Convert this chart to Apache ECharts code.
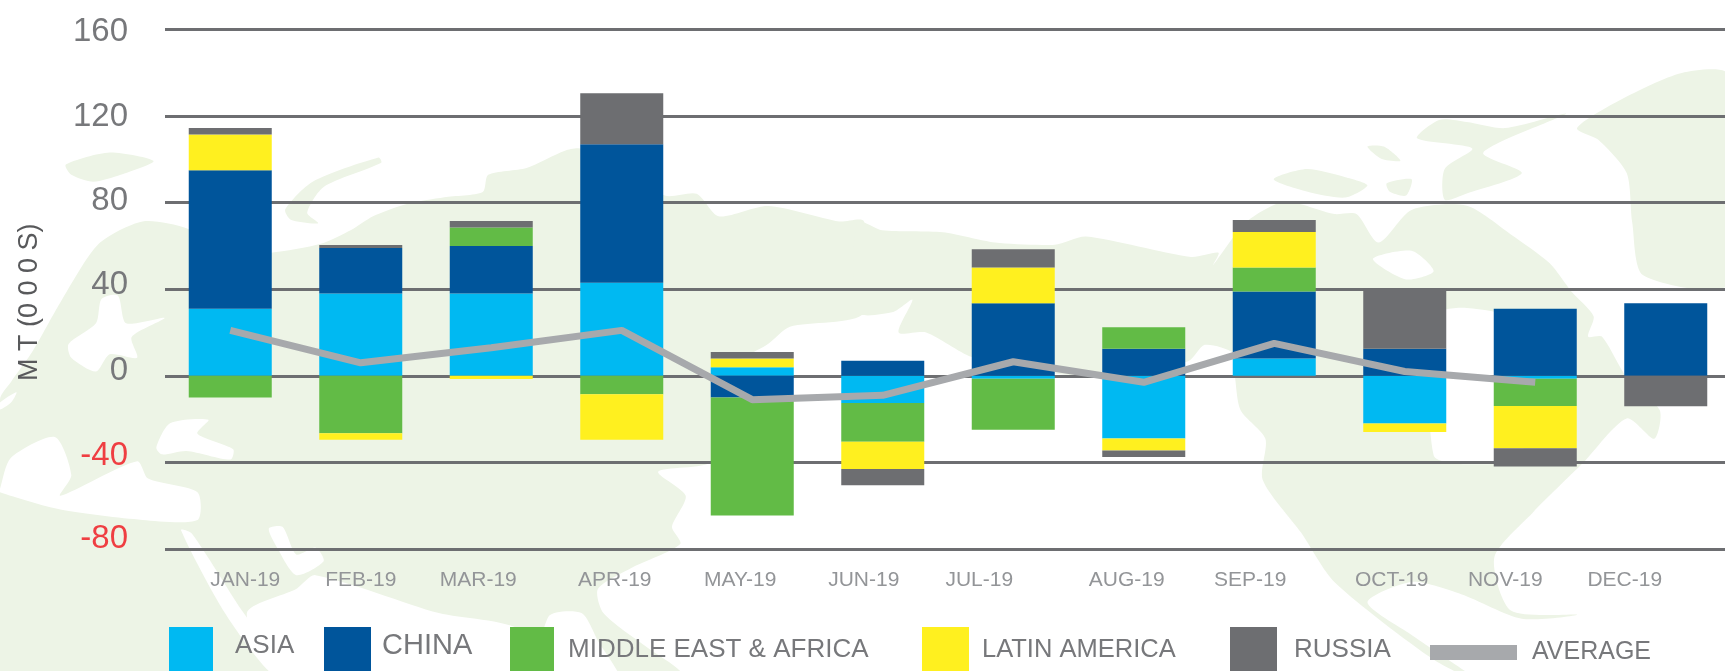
<!DOCTYPE html>
<html>
<head>
<meta charset="utf-8">
<title>MT (000S)</title>
<style>
  html, body { margin: 0; padding: 0; background: #fff; }
  #chart { width: 1725px; height: 671px; }
</style>
<script src="https://cdn.jsdelivr.net/npm/echarts@6/dist/echarts.min.js"></script>
</head>
<body>
<div id="chart"></div>
<script>
// data
const months = ["JAN-19", "FEB-19", "MAR-19", "APR-19", "MAY-19", "JUN-19", "JUL-19", "AUG-19", "SEP-19", "OCT-19", "NOV-19", "DEC-19"];
const asia = [31, 38, 38, 43, 4, -12.5, -1.4, -29, 8, -22, -1.4, 0];
const china = [64, 21, 22, 64, -10, 7, 33.5, 12.5, 31, 12.5, 31, 33.5];
const middleEastAfrica = [-10, -26.5, 8.5, -8.5, -54.5, -18, -23.5, 10, 11, 0, -12.5, 0];
const latinAmerica = [16.5, -3, -1.5, -21, 4, -12.5, 16.5, -5.5, 16.5, -4, -19.5, 0];
const russia = [3, 1.5, 3, 23.5, 3, -7.5, 8.5, -3, 5.5, 28, -8.5, -14];
const average = [21, 6, 13, 21, -11, -9, 6.5, -3, 15, 2, -3, null];
const yTicks = [160, 120, 80, 40, 0, -40, -80];

// the reference has its labels drifting off the bars and gridlines
const xLabelShift = [15, 0, -13, -7, -12, -19, -34, -17, -24, -13, -30, -41];
const yLabelLift = { 160: -2, 120: -1, 80: 2, 40: 4, 0: 5, "-40": 7, "-80": 10 };

const land = "#edf4e6";
const sea = "#ffffff";

// background world map, rough outlines traced from two crops
const fromLeft = (pts) => pts.map(([x, y]) => [x / 1.823, 130 + y / 2.898]);
const fromRight = (pts) => pts.map(([x, y]) => [860 + x / 1.813, 30 + y / 2.446]);

const mapShapes = [
  // eurasia and africa
  [land, fromLeft([[0, 780], [20, 730], [60, 640], [110, 500], [180, 330], [260, 265], [340, 285], [420, 360], [494, 356], [585, 330], [640, 290], [680, 250], [740, 215], [810, 195], [880, 180], [890, 130], [960, 110], [1030, 60], [1061, 55], [1212, 190], [1270, 185], [1310, 250], [1400, 220], [1530, 265], [1575, 265], [1575, 530], [1440, 570], [1400, 620], [1320, 700], [1330, 800], [1300, 960], [1200, 990], [1250, 1060], [1225, 1150], [1240, 1200], [1150, 1270], [1090, 1330], [1100, 1400], [1180, 1500], [1240, 1568], [1240, 1600], [0, 1600]])],
  [land, fromLeft([[120, 100], [200, 65], [280, 90], [220, 130], [170, 150], [130, 130]])],
  [land, fromLeft([[520, 230], [570, 150], [690, 80], [695, 95], [590, 165], [560, 240], [580, 270], [530, 260]])],
  [sea, fromLeft([[185, 490], [215, 480], [230, 560], [300, 545], [240, 600], [250, 660], [200, 650], [175, 700], [130, 660], [125, 620], [175, 560]])],
  [sea, fromLeft([[0, 790], [30, 760], [20, 790], [0, 810]])],
  [sea, fromLeft([[0, 1040], [20, 950], [100, 890], [130, 1000], [110, 1060], [250, 960], [270, 1010], [360, 1050], [360, 1130], [260, 1130], [110, 1100], [0, 1050]])],
  [sea, fromLeft([[285, 920], [310, 850], [380, 840], [360, 880], [425, 925], [420, 955], [340, 930], [295, 940]])],
  [sea, fromLeft([[330, 1160], [350, 1170], [440, 1390], [520, 1568], [490, 1568], [410, 1400]])],
  [sea, fromLeft([[490, 1155], [515, 1150], [540, 1230], [575, 1210], [590, 1250], [540, 1290], [505, 1210]])],
  [sea, fromLeft([[575, 1290], [800, 1400], [950, 1450], [975, 1600], [520, 1600], [450, 1400], [540, 1330]])],
  [sea, fromLeft([[985, 1600], [1000, 1410], [1060, 1400], [1090, 1480], [1130, 1600]])],
  // siberia through to north america
  [land, fromRight([[-5, 470], [40, 490], [150, 495], [245, 520], [353, 525], [410, 505], [600, 555], [650, 545], [640, 575], [700, 470], [770, 420], [860, 450], [900, 450], [940, 520], [1000, 440], [1100, 430], [1180, 500], [1250, 570], [1290, 640], [1330, 700], [1320, 750], [1345, 750], [1390, 850], [1450, 930], [1440, 1000], [1390, 950], [1310, 1060], [1220, 1180], [1150, 1290], [1180, 1420], [1300, 1430], [1200, 1440], [1090, 1380], [1000, 1350], [920, 1400], [1000, 1480], [1130, 1600], [1040, 1540], [860, 1350], [800, 1230], [730, 1100], [735, 1000], [690, 930], [680, 850], [676, 790], [625, 770], [595, 810], [444, 845], [353, 840], [203, 800], [120, 740], [70, 740], [95, 660], [60, 690], [-5, 690]])],
  [sea, fromRight([[1040, 700], [1100, 680], [1200, 720], [1200, 1040], [1100, 1062], [1040, 1040]])],
  [sea, fromRight([[930, 560], [1000, 540], [1040, 590], [990, 610]])],
  // greenland and the arctic islands
  [land, fromRight([[1300, 240], [1380, 170], [1490, 105], [1575, 110], [1575, 620], [1420, 600], [1400, 470], [1390, 350], [1340, 270]])],
  [land, fromRight([[1010, 265], [1050, 220], [1100, 225], [1170, 240], [1280, 205], [1130, 300], [1200, 350], [1100, 400], [1060, 415], [1060, 340], [1110, 290]])],
  [land, fromRight([[750, 365], [810, 340], [880, 360], [920, 380], [880, 410], [810, 395]])],
  [land, fromRight([[955, 375], [1000, 365], [990, 405], [960, 395]])],
  [land, fromRight([[920, 285], [950, 285], [980, 320], [945, 315]])]
];

const bar = (name, values, color) => ({
  name: name,
  type: "bar",
  stack: "total",
  barWidth: 83,
  data: values,
  itemStyle: { color: color }
});

// one legend per item, the entries are not evenly spread in the reference
const legendItem = (name, left, top, width, height, fontSize, gap, padTop, padBottom) => ({
  data: [{ name: name, icon: "rect" }],
  left: left,
  top: top,
  padding: 0,
  itemWidth: width,
  itemHeight: height,
  formatter: (n) => "{t|" + n + "}",
  textStyle: {
    rich: {
      t: {
        color: "#77787b",
        fontFamily: "Liberation Sans",
        fontSize: fontSize,
        padding: [padTop, 0, padBottom, gap]
      }
    }
  }
});

const yRich = {};
yTicks.forEach((t) => {
  const lift = yLabelLift[t];
  yRich["y" + (t < 0 ? "n" + -t : t)] = {
    color: t < 0 ? "#ef3e42" : "#77787b",
    fontFamily: "Liberation Sans",
    fontSize: 33,
    padding: lift < 0 ? [-lift * 2, 0, 0, 0] : [0, 0, lift * 2, 0]
  };
});

const xRich = {};
months.forEach((m, i) => {
  const s = xLabelShift[i];
  xRich["x" + i] = {
    color: "#939598",
    fontFamily: "Liberation Sans",
    fontSize: 21,
    padding: s < 0 ? [0, -s * 2, 0, 0] : [0, 0, 0, s * 2]
  };
});

const option = {
  animation: false,
  backgroundColor: "#fff",
  graphic: mapShapes.map(([fill, points]) => ({
    type: "polygon",
    silent: true,
    z: -10,
    shape: { points: points, smooth: 0.25 },
    style: { fill: fill }
  })),
  legend: [
    legendItem("ASIA", 169, 627, 44, 44, 26, 17, 0, 7),
    legendItem("CHINA", 324, 627, 47, 44, 29, 6, 0, 7),
    legendItem("MIDDLE EAST & AFRICA", 510, 627, 44, 44, 26, 9, 2, 0),
    legendItem("LATIN AMERICA", 922, 627, 47, 44, 25.5, 8, 2, 0),
    legendItem("RUSSIA", 1230, 627, 47, 44, 26, 12, 2, 0),
    legendItem("AVERAGE", 1430, 640, 87, 15, 25, 10, 0, 0)
  ],
  grid: { left: 165, top: 29.5, width: 1566, height: 519.5, outerBoundsMode: "none" },
  xAxis: {
    type: "category",
    data: months,
    position: "bottom",
    axisLine: { show: false, onZero: false },
    axisTick: { show: false },
    axisLabel: {
      interval: 0,
      margin: 21,
      formatter: (v, i) => "{x" + i + "|" + v + "}",
      rich: xRich
    }
  },
  yAxis: {
    type: "value",
    min: -80,
    max: 160,
    interval: 40,
    name: "M T (0 0 0 S)",
    nameLocation: "middle",
    nameGap: 122,
    nameRotate: 90,
    nameTextStyle: {
      color: "#58595b",
      fontFamily: "Liberation Sans",
      fontSize: 27,
      padding: [0, 26, 0, 0]
    },
    axisLine: { show: false },
    axisTick: { show: false },
    axisLabel: {
      margin: 37,
      formatter: (v) => "{y" + (v < 0 ? "n" + -v : v) + "|" + v + "}",
      rich: yRich
    },
    splitLine: { lineStyle: { color: "#6d6e71", width: 3 } }
  },
  series: [
    bar("ASIA", asia, "#00b9f2"),
    bar("CHINA", china, "#00559b"),
    bar("MIDDLE EAST & AFRICA", middleEastAfrica, "#62bb46"),
    bar("LATIN AMERICA", latinAmerica, "#fff01f"),
    bar("RUSSIA", russia, "#6d6e71"),
    {
      name: "AVERAGE",
      type: "line",
      data: average,
      symbol: "none",
      z: 5,
      itemStyle: { color: "#a7a9ac" },
      lineStyle: { color: "#a7a9ac", width: 7 }
    }
  ]
};

const chart = echarts.init(document.getElementById("chart"), null, { renderer: "canvas" });
chart.setOption(option);
</script>
</body>
</html>
